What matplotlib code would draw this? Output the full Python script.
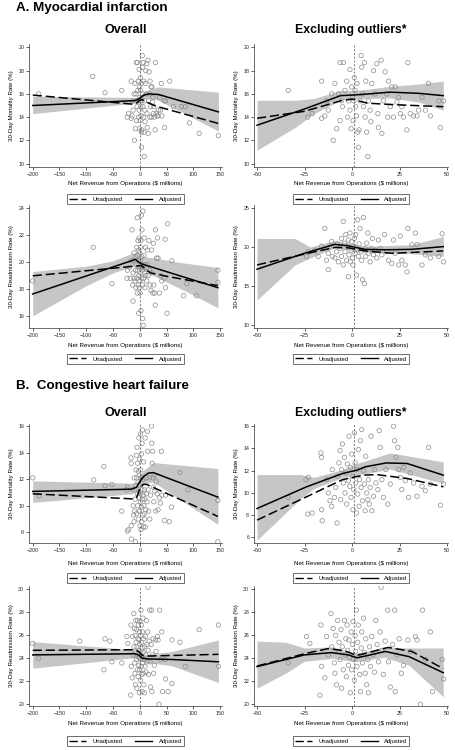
"""
Net revenue from operations vs 30-day outcomes (MI and CHF), four rows of
paired panels: all hospitals on the left, outliers excluded on the right.
"""

import matplotlib
matplotlib.use("Agg")
import matplotlib.pyplot as plt
from matplotlib.lines import Line2D

# ---------------------------------------------------------------------------
# Hospital points (x = net revenue, $ millions; y = rate, %)
# *_X / *_Y are hospitals within +/-50, *_OUT_* are the outliers
# ---------------------------------------------------------------------------
MI_MORT_X = [-33.6, -23.4, -21, -16, -16, -14.3, -13.4, -12.5, -10.7, -9.9, -9, -8.1, -7.2,
             -6.3, -5.5, -4.6, -6.3, -5, -3.7, -2.8, -2.3, -1.9, -1.1, -1.1, -0.5, -0.2,
             0.2, 0.5, 0.9, 1.2, 1.6, 1.9, 2.3, 2.6, 3.0, 3.3, 3.7, 4.2, 4.8, 5.1, 5.5, 6.0,
             6.5, 6.9, 7.2, 7.7, 8.3, 8.6, 9.5, 9.9, 10.4, 11.3, 12.1, 13.0, 13.6, 13.9,
             15.3, 15.7, 16.5, 17.4, 18.3, 18.8, 19.2, 20.1, 20.9, 21.8, 22.7, 23.6, 24.5,
             25.4, 26.2, 27.1, 28.9, 29.4, 30.6, 32.4, 34.2, 35.0, 36.8, 38.6, 40.3, 41.2,
             45.6, 46.5, 48.2]
MI_MORT_Y = [16.3, 14.0, 14.3, 17.1, 13.9, 14.1, 15.4, 14.6, 16.0, 12.0, 16.9, 13.0, 16.0,
             18.7, 15.4, 18.7, 13.7, 14.9, 16.3, 17.1, 14.0, 15.4, 18.1, 14.6, 13.0, 16.6,
             15.7, 13.7, 15.4, 17.4, 16.3, 14.9, 14.1, 16.9, 12.7, 11.4, 12.9, 15.4, 19.3,
             18.3, 16.0, 14.9, 18.7, 14.0, 17.1, 12.7, 10.6, 15.4, 14.6, 13.6, 16.9, 18.0,
             16.0, 18.6, 14.3, 13.1, 18.9, 12.6, 15.4, 17.9, 16.0, 14.0, 17.1, 14.9, 16.6,
             14.0, 16.6, 15.3, 15.7, 14.3, 14.9, 14.0, 12.9, 18.7, 14.3, 14.1, 14.1, 14.6,
             15.7, 14.6, 16.9, 14.1, 15.4, 13.1, 15.4]
MI_MORT_OUT_X = [-189, -88, -65, 56, 63, 78, 85, 93, 111, 147]
MI_MORT_OUT_Y = [16.0, 17.5, 16.1, 17.1, 14.9, 14.9, 14.9, 13.5, 12.6, 12.4]

MI_READM_X = [-24, -23, -19.5, -17.8, -16, -14.3, -13.4, -12.5, -11.6, -10.7, -10.4, -9, -8.1,
              -7.6, -7.2, -6.3, -5.5, -5.5, -4.6, -4.6, -4.0, -3.7, -3.3, -2.8, -2.3, -1.9,
              -1.6, -1.1, -0.9, -0.5, -0.2, 0.2, 0.5, 0.9, 1.2, 1.6, 1.9, 2.3, 2.6, 3.0, 3.3,
              3.7, 4.2, 4.8, 5.1, 5.5, 6.0, 6.5, 6.9, 7.2, 7.7, 8.3, 8.6, 9.5, 10.0, 10.7,
              11.3, 12.1, 13.0, 13.9, 14.8, 15.7, 17.1, 18.3, 19.2, 20.9, 21.8, 22.7, 24.5,
              25.4, 26.2, 28.0, 28.9, 29.4, 31.5, 33.3, 34.2, 36.8, 38.6, 41.2, 45.6, 47.4,
              48.2, -1.9, -12.5]
MI_READM_Y = [18.8, 19.4, 19.6, 18.8, 20.1, 22.4, 18.3, 19.2, 20.1, 20.7, 18.8, 18.6, 19.4,
              20.4, 18.1, 19.8, 21.1, 18.8, 23.3, 17.7, 20.5, 19.4, 21.6, 18.3, 20.1, 20.9,
              19.0, 21.8, 18.1, 19.6, 20.7, 18.6, 17.7, 20.1, 21.1, 19.2, 21.6, 16.4, 19.6,
              23.5, 18.8, 20.4, 22.4, 19.4, 18.3, 15.8, 23.8, 15.3, 19.8, 18.8, 20.5, 21.8,
              19.2, 18.1, 19.8, 21.1, 19.0, 19.6, 18.6, 20.9, 19.8, 19.0, 21.6, 19.4, 18.3,
              17.9, 20.9, 19.2, 17.7, 21.4, 18.3, 17.7, 16.8, 22.4, 20.3, 21.8, 20.3, 17.7,
              19.0, 18.6, 18.8, 21.7, 18.1, 16.2, 17.1]
MI_READM_OUT_X = [-200, -87, -52, 51, 52, 60, 82, 88, 106, 146, 146]
MI_READM_OUT_Y = [18.6, 21.1, 18.4, 16.2, 22.85, 20.1, 17.5, 18.4, 17.5, 19.4, 18.5]

CHF_MORT_X = [-33.6, -24.3, -23, -23.4, -21, -16.4, -16, -16, -15.7, -13.4, -12.5, -11.6,
              -10.7, -10.4, -9.3, -8.6, -7.9, -7.6, -6.9, -6.3, -6.0, -5.5, -5.1, -4.6, -4.0,
              -3.7, -3.3, -2.8, -2.5, -1.9, -1.6, -1.2, -0.9, -0.5, -0.2, 0.2, 0.5, 0.9, 1.2,
              1.6, 1.9, 2.3, 2.6, 3.0, 3.3, 3.7, 4.0, 4.4, 4.8, 5.1, 5.5, 6.0, 6.5, 6.9, 7.2,
              7.7, 8.3, 8.6, 9.0, 9.5, 10.0, 10.4, 11.3, 11.8, 12.5, 13.6, 14.3, 14.8, 15.7,
              16.5, 17.8, 18.8, 20.1, 21.8, 22.4, 23.1, 24.1, 24.5, 25.4, 26.2, 27.1, 28.0,
              29.8, 30.6, 32.4, 34.2, 36.8, 38.6, 40.3, 41.2, 46.5, 48.2]
CHF_MORT_Y = [9.6, 11.2, 11.4, 8.1, 8.2, 13.6, 13.2, 8.5, 7.5, 11.2, 10.0, 9.3, 8.8, 12.1,
              9.6, 10.5, 7.3, 11.5, 12.7, 13.8, 9.4, 12.1, 14.4, 10.9, 13.2, 10.0, 11.8, 9.0,
              12.6, 11.1, 15.1, 10.6, 12.3, 9.6, 13.5, 11.5, 8.5, 10.3, 15.4, 12.7, 10.9, 8.2,
              12.1, 9.9, 13.9, 8.8, 11.2, 14.7, 10.5, 15.7, 9.3, 12.0, 10.8, 8.4, 13.3, 10.0,
              9.4, 11.2, 9.0, 10.5, 15.1, 8.4, 9.7, 12.1, 10.9, 10.3, 15.6, 14.1, 11.2, 9.6,
              12.1, 9.0, 10.8, 16.0, 14.7, 13.2, 14.1, 12.1, 11.4, 10.3, 12.3, 11.1, 9.6, 11.8,
              10.9, 9.7, 10.6, 10.2, 14.1, 10.8, 8.9, 10.8]
CHF_MORT_OUT_X = [-200, -188, -86, -67, -65, -52, 55, 59, 75, 90, 146, 146]
CHF_MORT_OUT_Y = [12.1, 10.75, 11.95, 12.95, 11.5, 11.6, 8.8, 9.9, 12.5, 11.2, 10.4, 7.3]

CHF_READM_X = [-33.6, -24, -22.2, -16.9, -16.4, -16, -14.3, -13.4, -12.5, -11.1, -10.7, -9.9,
               -9.3, -9.0, -8.6, -8.1, -7.6, -7.2, -6.9, -6.3, -5.8, -5.5, -5.1, -4.6, -4.0,
               -3.7, -3.3, -3.0, -2.6, -2.3, -1.9, -1.6, -1.2, -0.9, -0.5, -0.2, 0.2, 0.5, 0.9,
               1.2, 1.6, 1.9, 2.3, 2.6, 3.0, 3.3, 3.7, 4.0, 4.4, 4.8, 5.1, 5.5, 6.0, 6.5, 6.9,
               7.2, 7.7, 8.3, 8.6, 9.2, 9.7, 10.4, 11.1, 11.8, 12.5, 13.2, 13.9, 14.8, 15.3,
               15.7, 16.5, 17.4, 18.8, 19.2, 20.1, 21.3, 22.4, 22.7, 23.6, 24.8, 25.9, 27.1,
               29.4, 30.6, 33.3, 34.2, 37.1, 38.6, 41.2, 42.4, 36.0, 47.4, 48.2]
CHF_READM_Y = [23.6, 25.9, 25.3, 20.8, 26.9, 23.3, 22.3, 25.9, 24.3, 27.9, 25.0, 26.6, 23.6,
               22.7, 26.0, 21.7, 27.3, 24.6, 25.4, 23.9, 26.5, 21.4, 25.0, 23.0, 27.3, 24.3,
               25.7, 22.4, 26.9, 24.7, 23.4, 25.6, 24.1, 21.0, 26.3, 23.0, 25.2, 27.2, 23.9,
               22.1, 26.0, 24.6, 28.2, 23.3, 25.4, 26.9, 24.2, 22.6, 21.1, 24.9, 26.3, 23.6,
               27.5, 24.5, 22.7, 25.7, 21.7, 23.9, 21.0, 25.0, 23.3, 25.9, 24.3, 22.8, 27.3,
               25.2, 23.7, 26.3, 30.2, 24.7, 22.6, 25.5, 28.2, 23.7, 21.5, 25.2, 28.2, 21.1,
               24.3, 25.7, 22.7, 23.4, 25.6, 24.6, 25.9, 25.6, 28.2, 23.9, 26.3, 21.1, 20.0,
               23.9, 22.2]
CHF_READM_OUT_X = [-200, -189, -112, -67, -65, -56, -52, 53, 60, 60, 75, 85, 111, 147, 147]
CHF_READM_OUT_Y = [25.3, 24.0, 25.5, 23.0, 25.7, 25.5, 23.7, 21.1, 21.8, 25.6, 25.4, 23.3,
                   26.5, 26.9, 23.3]

# ---------------------------------------------------------------------------
# Fitted curves (adjusted = solid with 95% band, unadjusted = dashed)
# ---------------------------------------------------------------------------
# MI mortality, overall
A1_ADJ_X = [-200, -10, -4, 2, 8, 16, 35, 147]
A1_ADJ_Y = [15.0, 15.42, 15.5, 15.7, 15.9, 16.0, 15.95, 14.45]
A1_UNA_X = [-200, -15, -6, 0, 5, 15, 30, 147]
A1_UNA_Y = [15.9, 15.12, 15.2, 15.45, 15.5, 15.25, 14.95, 13.45]
A1_BAND_X = [-200, -10, -4, 2, 8, 16, 35, 147]
A1_BAND_LO = [14.3, 15.2, 15.3, 15.45, 15.6, 15.65, 15.45, 12.8]
A1_BAND_HI = [15.8, 15.7, 15.75, 15.95, 16.2, 16.35, 16.6, 16.15]

# MI mortality, excluding outliers
A2_ADJ_X = [-50, -25, -6, 0, 5, 20, 35, 48]
A2_ADJ_Y = [13.3, 14.7, 15.85, 15.9, 15.95, 16.15, 16.05, 15.85]
A2_UNA_X = [-50, -25, -6, 0, 8, 25, 48]
A2_UNA_Y = [13.9, 14.5, 15.4, 15.55, 15.2, 15.05, 14.9]
A2_BAND_X = [-50, -30, -20, -6, 0, 5, 20, 35, 48]
A2_BAND_LO = [11.15, 13.1, 14.3, 15.45, 15.55, 15.6, 15.65, 15.3, 14.6]
A2_BAND_HI = [15.45, 15.45, 15.6, 16.3, 16.3, 16.35, 16.65, 16.85, 17.1]

# MI readmission, overall
A3_ADJ_X = [-200, -12, -8, -2, 5, 146]
A3_ADJ_Y = [17.63, 20.15, 20.2, 20.0, 19.85, 18.1]
A3_UNA_X = [-200, -10, 3, 10, 20, 50, 146]
A3_UNA_Y = [18.98, 19.7, 19.75, 19.5, 19.2, 18.95, 18.25]
A3_BAND_X = [-200, -100, -50, -12, 0, 20, 80, 146]
A3_BAND_LO = [16.0, 18.25, 19.2, 19.7, 19.5, 19.1, 17.95, 16.6]
A3_BAND_HI = [19.3, 19.7, 20.1, 20.7, 20.45, 20.35, 19.95, 19.6]

# MI readmission, excluding outliers
A4_ADJ_X = [-50, -25, -9, -2, 7, 17, 31, 48]
A4_ADJ_Y = [17.15, 19.2, 20.35, 20.15, 19.7, 19.65, 19.7, 20.05]
A4_UNA_X = [-50, -25, -9, -2, 7, 21, 31, 48]
A4_UNA_Y = [17.7, 19.1, 19.95, 19.9, 19.5, 19.2, 19.3, 19.5]
A4_BAND_X = [-50, -30, -22, -9, 7, 31, 48]
A4_BAND_LO = [13.2, 17.7, 18.6, 19.9, 19.3, 19.15, 18.8]
A4_BAND_HI = [21.1, 21.1, 20.0, 20.85, 20.1, 20.3, 21.35]

# CHF mortality, overall
B1_ADJ_X = [-200, -15, -6, 0, 7, 16, 25, 146]
B1_ADJ_Y = [11.08, 11.25, 11.4, 11.8, 12.2, 12.45, 12.5, 10.65]
B1_UNA_X = [-200, -15, -6, 0, 7, 13, 146]
B1_UNA_Y = [10.9, 10.52, 10.6, 11.3, 11.62, 11.6, 9.2]
B1_BAND_X = [-200, -15, -5, 5, 25, 146]
B1_BAND_LO = [10.25, 10.9, 11.1, 11.6, 11.8, 8.6]
B1_BAND_HI = [11.87, 11.7, 11.8, 12.6, 13.25, 12.8]

# CHF mortality, excluding outliers
B2_ADJ_X = [-50, -24, -5, 2.5, 7, 18, 29, 48]
B2_ADJ_Y = [8.6, 10.55, 11.75, 12.05, 12.35, 12.7, 12.65, 11.6]
B2_UNA_X = [-50, -24, -5, 6, 13, 29, 48]
B2_UNA_Y = [7.56, 9.65, 11.2, 11.6, 11.65, 11.3, 10.55]
B2_BAND_X = [-50, -27, -20, -5, 0, 20, 48]
B2_BAND_LO = [5.76, 9.5, 10.4, 11.4, 11.5, 12.15, 10.85]
B2_BAND_HI = [11.65, 11.65, 11.4, 12.1, 12.5, 13.6, 12.8]

# CHF readmission, overall
B3_ADJ_X = [-200, -10, -2, 5, 15, 60, 147]
B3_ADJ_Y = [24.3, 24.4, 24.3, 24.0, 23.95, 23.9, 23.7]
B3_UNA_X = [-200, -10, -2, 5, 15, 60, 147]
B3_UNA_Y = [24.7, 24.75, 24.6, 24.25, 24.2, 24.25, 24.35]
B3_BAND_X = [-200, -10, 5, 60, 147]
B3_BAND_LO = [23.15, 24.05, 23.7, 23.35, 21.9]
B3_BAND_HI = [25.45, 24.75, 24.3, 24.6, 25.6]

# CHF readmission, excluding outliers
B4_ADJ_X = [-50, -25, -11, -2, 2.5, 7, 17.5, 30, 48]
B4_ADJ_Y = [23.28, 24.3, 24.5, 24.3, 24.05, 24.2, 24.6, 24.15, 22.75]
B4_UNA_X = [-50, -25, -12.5, -3.7, 2.5, 8.6, 19, 31.5, 48]
B4_UNA_Y = [23.33, 24.4, 24.85, 24.65, 24.25, 24.5, 24.95, 24.6, 23.1]
B4_BAND_X = [-50, -35, -25, -10, 2, 17, 30, 48]
B4_BAND_LO = [21.4, 22.7, 23.75, 24.0, 23.7, 24.1, 23.4, 20.65]
B4_BAND_HI = [25.5, 25.4, 24.9, 25.0, 24.4, 25.0, 24.9, 24.9]

X_TICKS_ALL = [-200, -150, -100, -50, 0, 50, 100, 150]
X_TICKS_EXCL = [-50, -25, 0, 25, 50]
MEAN_REVENUE = 1.0

# ---------------------------------------------------------------------------
# Layout (pixel geometry of the 455 x 750 figure)
# ---------------------------------------------------------------------------
W_PX, H_PX = 455, 750
FONT = ["Liberation Sans", "DejaVu Sans"]
COL_LEFT = {"x0": 29, "x1": 222, "xlim": (-207, 153.7), "xticks": X_TICKS_ALL}
COL_RIGHT = {"x0": 254, "x1": 448, "xlim": (-51.6, 50.5), "xticks": X_TICKS_EXCL}
ROWS = [  # (top px, bottom px, xlabel y px, legend y px)
    (44, 167, 183, 199),
    (205, 328, 345, 359),
    (424, 543, 563, 578),
    (586, 706, 724, 741),
]


def fx(px):
    return px / W_PX


def fy(py):
    return 1 - py / H_PX


def draw_panel(fig, col, row, pts, curves, ylim, yticks, ylabel):
    top, bottom, xlab_y, leg_y = ROWS[row]
    ax = fig.add_axes([fx(col["x0"]), fy(bottom),
                       fx(col["x1"] - col["x0"]), (bottom - top) / H_PX])
    adj_x, adj_y, una_x, una_y, bx, blo, bhi = curves

    ax.fill_between(bx, blo, bhi, color="#c6c6c6", lw=0, zorder=1)
    for px, py in pts:
        ax.scatter(px, py, s=10, facecolors="none", edgecolors="#8c8c8c",
                   linewidths=0.5, zorder=2)
    ax.axvline(MEAN_REVENUE, color="#666666", lw=0.6, ls=(0, (2.5, 2)), zorder=3)
    ax.plot(una_x, una_y, color="black", lw=1.1, ls=(0, (6, 2.5)), zorder=4)
    ax.plot(adj_x, adj_y, color="black", lw=1.1, zorder=5)

    ax.set_xlim(*col["xlim"])
    ax.set_ylim(*ylim)
    ax.set_xticks(col["xticks"])
    ax.set_yticks(yticks)
    ax.tick_params(labelsize=3.8, length=2, width=0.5, pad=1.5, colors="#222222")
    for lab in ax.get_xticklabels() + ax.get_yticklabels():
        lab.set_family(FONT)
    for side in ("top", "right"):
        ax.spines[side].set_visible(False)
    for side in ("left", "bottom"):
        ax.spines[side].set_linewidth(0.5)
        ax.spines[side].set_color("#333333")
    ax.set_ylabel(ylabel, fontsize=4.4, family=FONT, labelpad=3)

    cx = (col["x0"] + col["x1"]) / 2
    fig.text(fx(cx), fy(xlab_y), "Net Revenue from Operations ($ millions)",
             ha="center", va="center", fontsize=4.5, family=FONT)

    handles = [Line2D([], [], color="black", lw=1.0, ls=(0, (6, 2.5))),
               Line2D([], [], color="black", lw=1.0)]
    leg = ax.legend(handles, ["Unadjusted", "Adjusted"], loc="center",
                    bbox_to_anchor=(fx(cx), fy(leg_y)), bbox_transform=fig.transFigure,
                    ncol=2, frameon=True, fancybox=False, edgecolor="black",
                    prop={"family": FONT, "size": 4.2}, handlelength=2.9,
                    columnspacing=2.2, handletextpad=1.1, borderpad=0.35)
    leg.get_frame().set_linewidth(0.5)
    return ax


fig = plt.figure(figsize=(W_PX / 100, H_PX / 100), dpi=100)

mi_mort_all = [(MI_MORT_X, MI_MORT_Y), (MI_MORT_OUT_X, MI_MORT_OUT_Y)]
mi_readm_all = [(MI_READM_X, MI_READM_Y), (MI_READM_OUT_X, MI_READM_OUT_Y)]
chf_mort_all = [(CHF_MORT_X, CHF_MORT_Y), (CHF_MORT_OUT_X, CHF_MORT_OUT_Y)]
chf_readm_all = [(CHF_READM_X, CHF_READM_Y), (CHF_READM_OUT_X, CHF_READM_OUT_Y)]

MORT = "30-Day Mortality Rate (%)"
READM = "30-Day Readmission Rate (%)"

draw_panel(fig, COL_LEFT, 0, mi_mort_all,
           (A1_ADJ_X, A1_ADJ_Y, A1_UNA_X, A1_UNA_Y, A1_BAND_X, A1_BAND_LO, A1_BAND_HI),
           (9.7, 20.3), [10, 12, 14, 16, 18, 20], MORT)
draw_panel(fig, COL_RIGHT, 0, mi_mort_all[:1],
           (A2_ADJ_X, A2_ADJ_Y, A2_UNA_X, A2_UNA_Y, A2_BAND_X, A2_BAND_LO, A2_BAND_HI),
           (9.7, 20.3), [10, 12, 14, 16, 18, 20], MORT)
draw_panel(fig, COL_LEFT, 1, mi_readm_all,
           (A3_ADJ_X, A3_ADJ_Y, A3_UNA_X, A3_UNA_Y, A3_BAND_X, A3_BAND_LO, A3_BAND_HI),
           (15.1, 24.25), [16, 18, 20, 22, 24], READM)
draw_panel(fig, COL_RIGHT, 1, mi_readm_all[:1],
           (A4_ADJ_X, A4_ADJ_Y, A4_UNA_X, A4_UNA_Y, A4_BAND_X, A4_BAND_LO, A4_BAND_HI),
           (9.6, 25.4), [10, 15, 20, 25], READM)
draw_panel(fig, COL_LEFT, 2, chf_mort_all,
           (B1_ADJ_X, B1_ADJ_Y, B1_UNA_X, B1_UNA_Y, B1_BAND_X, B1_BAND_LO, B1_BAND_HI),
           (7.2, 16.15), [8, 10, 12, 14, 16], MORT)
draw_panel(fig, COL_RIGHT, 2, chf_mort_all[:1],
           (B2_ADJ_X, B2_ADJ_Y, B2_UNA_X, B2_UNA_Y, B2_BAND_X, B2_BAND_LO, B2_BAND_HI),
           (5.5, 16.2), [6, 8, 10, 12, 14, 16], MORT)
draw_panel(fig, COL_LEFT, 3, chf_readm_all,
           (B3_ADJ_X, B3_ADJ_Y, B3_UNA_X, B3_UNA_Y, B3_BAND_X, B3_BAND_LO, B3_BAND_HI),
           (19.85, 30.3), [20, 22, 24, 26, 28, 30], READM)
draw_panel(fig, COL_RIGHT, 3, chf_readm_all[:1],
           (B4_ADJ_X, B4_ADJ_Y, B4_UNA_X, B4_UNA_Y, B4_BAND_X, B4_BAND_LO, B4_BAND_HI),
           (19.85, 30.3), [20, 22, 24, 26, 28, 30], READM)

# --- Section and column headings ---
fig.text(fx(16), fy(8.5), "A. Myocardial infarction", ha="left", va="center",
         fontsize=9.6, fontweight="bold", family=FONT)
fig.text(fx(16), fy(386.5), "B.  Congestive heart failure", ha="left", va="center",
         fontsize=9.6, fontweight="bold", family=FONT)
for head_y in (30, 413):
    fig.text(fx(125.5), fy(head_y), "Overall", ha="center", va="center",
             fontsize=9, fontweight="bold", family=FONT)
    fig.text(fx(351), fy(head_y), "Excluding outliers*", ha="center", va="center",
             fontsize=8.8, fontweight="bold", family=FONT)

fig.savefig("out.png", dpi=100, facecolor="white")
